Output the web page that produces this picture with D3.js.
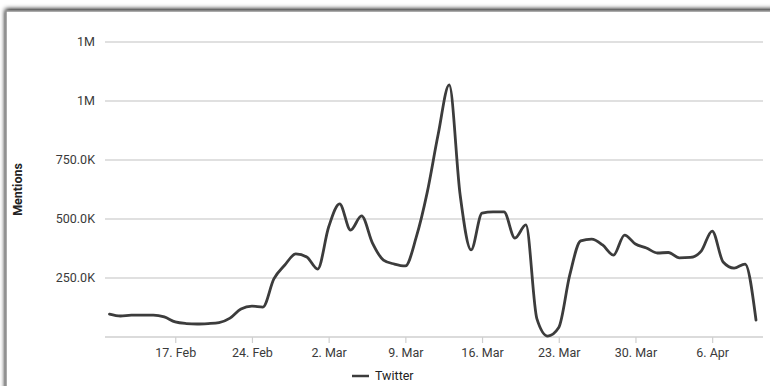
<!DOCTYPE html>
<html>
<head>
<meta charset="utf-8">
<script src="https://cdn.jsdelivr.net/npm/d3@7"></script>
<style>
  html, body { margin: 0; padding: 0; background: #ffffff; }
  svg { display: block; }
  text { font-family: Roboto, "Noto Sans", sans-serif; }
</style>
</head>
<body>
<svg id="chart" width="770" height="386"></svg>
<script>
// Daily Twitter mentions, 11 Feb – 10 Apr 2020
const firstDay = "2020-02-11";
const lastDay = "2020-04-10";
const twitter = [
  97000, 89000, 93000, 93000, 93000, 85000, 64000, 57000, 55000, 57000,
  61000, 80000, 119000, 131000, 127000, 246000, 305000, 352000, 339000, 288000,
  466000, 564000, 453000, 513000, 398000, 326000, 309000, 301000, 424000, 614000,
  860000, 1068000, 602000, 369000, 525000, 530000, 530000, 419000, 475000, 78000,
  4000, 40000, 262000, 407000, 415000, 390000, 347000, 432000, 394000, 377000,
  356000, 358000, 335000, 337000, 364000, 449000, 318000, 292000, 309000, 72000
];
const yTickValues = [250000, 500000, 750000, 1000000, 1250000];
const yTickLabels = ["250.0K", "500.0K", "750.0K", "1M", "1M"];
const xTickDates = ["2020-02-17", "2020-02-24", "2020-03-02", "2020-03-09",
                    "2020-03-16", "2020-03-23", "2020-03-30", "2020-04-06"];
const seriesName = "Twitter";
const yTitle = "Mentions";

const parse = d3.timeParse("%Y-%m-%d");
const start = parse(firstDay);
const end = parse(lastDay);
const days = d3.timeDay.range(start, d3.timeDay.offset(end, 1));
const data = days.map((d, i) => ({ date: d, value: twitter[i] }));

const svg = d3.select("#chart");

// card with a soft shadow along its top and left edges
const defs = svg.append("defs");
const f = defs.append("filter").attr("id", "cardShadow")
  .attr("x", "-5%").attr("y", "-5%").attr("width", "110%").attr("height", "110%");
f.append("feGaussianBlur").attr("in", "SourceAlpha").attr("stdDeviation", 2.5).attr("result", "b");
f.append("feOffset").attr("in", "b").attr("dx", 0).attr("dy", -1).attr("result", "o");
f.append("feComponentTransfer").attr("in", "o").attr("result", "s")
  .append("feFuncA").attr("type", "linear").attr("slope", 1.1);
const fm = f.append("feMerge");
fm.append("feMergeNode").attr("in", "s");
fm.append("feMergeNode").attr("in", "SourceGraphic");

svg.append("rect")
  .attr("x", 6).attr("y", 11).attr("width", 800).attr("height", 420)
  .attr("fill", "#ffffff").attr("stroke", "#8f8f8f").attr("stroke-width", 1.5)
  .attr("filter", "url(#cardShadow)");

const plotLeft = 105, plotRight = 763;
const x = d3.scaleTime().domain([start, end]).range([109.5, 756]);
const y = d3.scaleLinear().domain([0, 1250000]).range([337, 42]);

// horizontal grid
svg.append("g")
  .selectAll("line")
  .data(yTickValues)
  .join("line")
  .attr("x1", plotLeft).attr("x2", plotRight)
  .attr("y1", d => y(d)).attr("y2", d => y(d))
  .attr("stroke", "#d6d6d6").attr("stroke-width", 1.5);

// y labels
svg.append("g")
  .selectAll("text")
  .data(yTickValues)
  .join("text")
  .attr("x", 95)
  .attr("y", d => y(d))
  .attr("dy", "0.35em")
  .attr("text-anchor", "end")
  .attr("font-size", 12.5)
  .attr("fill", "#3a3a3a")
  .text((d, i) => yTickLabels[i]);

// x axis
const xAxis = d3.axisBottom(x)
  .tickValues(xTickDates.map(parse))
  .tickFormat(d3.timeFormat("%-d. %b"))
  .tickSize(6)
  .tickPadding(5);
const gx = svg.append("g").attr("transform", `translate(0,${y(0)})`).call(xAxis);
gx.select(".domain").remove();
gx.selectAll(".tick line").attr("stroke", "#cfcfcf").attr("stroke-width", 1.2);
gx.selectAll(".tick text")
  .attr("font-size", 12.5)
  .attr("fill", "#3a3a3a")
  .attr("font-family", "Roboto, 'Noto Sans', sans-serif");
svg.append("line")
  .attr("x1", plotLeft).attr("x2", plotRight)
  .attr("y1", y(0)).attr("y2", y(0))
  .attr("stroke", "#cfcfcf").attr("stroke-width", 1.5);

// y title
svg.append("text")
  .attr("transform", `translate(22,${(y(0) + y(1250000)) / 2}) rotate(-90)`)
  .attr("text-anchor", "middle")
  .attr("font-size", 12.5)
  .attr("font-weight", "bold")
  .attr("fill", "#222")
  .text(yTitle);

// series line
const line = d3.line()
  .x(d => x(d.date))
  .y(d => y(d.value))
  .curve(d3.curveMonotoneX);
svg.append("path")
  .datum(data)
  .attr("d", line)
  .attr("fill", "none")
  .attr("stroke", "#3c3c3c")
  .attr("stroke-width", 2.8)
  .attr("stroke-linejoin", "round")
  .attr("stroke-linecap", "round");

// legend
const lg = svg.append("g").attr("transform", "translate(352,376)");
lg.append("line")
  .attr("x1", 0).attr("x2", 17).attr("y1", 0).attr("y2", 0)
  .attr("stroke", "#3c3c3c").attr("stroke-width", 2.5);
lg.append("text")
  .attr("x", 23).attr("y", 0).attr("dy", "0.35em")
  .attr("font-size", 12.5)
  .attr("fill", "#222")
  .text(seriesName);
</script>
</body>
</html>
